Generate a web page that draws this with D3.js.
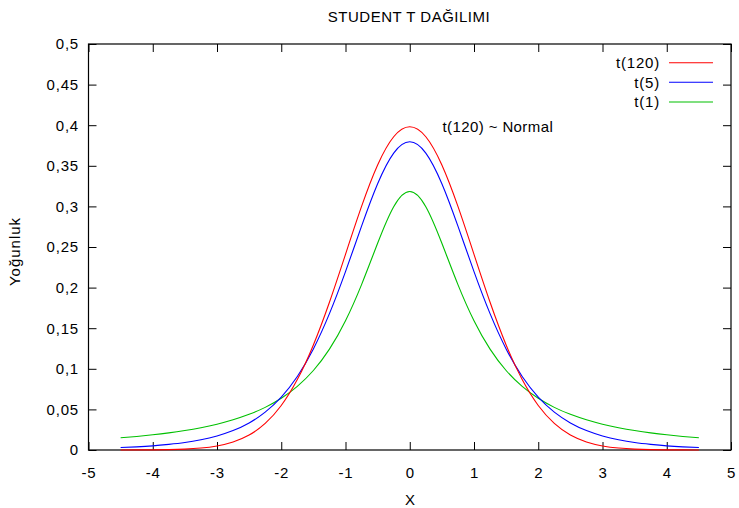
<!DOCTYPE html>
<html>
<head>
<meta charset="utf-8">
<script src="https://cdn.jsdelivr.net/npm/d3@7"></script>
<style>
  html, body { margin: 0; padding: 0; background: #fff; }
  svg { display: block; font-family: "Liberation Sans", Arial, Helvetica, sans-serif; }
</style>
</head>
<body>
<svg id="chart" width="739" height="508"></svg>
<script>
// ---- data ----
const xValues = [-4.5,-4.25,-4,-3.75,-3.5,-3.25,-3,-2.75,-2.5,-2.25,-2,-1.75,-1.5,-1.25,-1,-0.75,-0.5,-0.25,0,
                 0.25,0.5,0.75,1,1.25,1.5,1.75,2,2.25,2.5,2.75,3,3.25,3.5,3.75,4,4.25,4.5];
const t120 = [0.0000,0.0001,0.0002,0.0005,0.0011,0.0024,0.0050,0.0099,0.0184,0.0327,0.0548,0.0867,0.1294,0.1820,0.2410,0.3000,0.3510,0.3858,
              0.3981,
              0.3858,0.3510,0.3000,0.2410,0.1820,0.1294,0.0867,0.0548,0.0327,0.0184,0.0099,0.0050,0.0024,0.0011,0.0005,0.0002,0.0001,0.0000];
const t5 =   [0.0030,0.0039,0.0051,0.0069,0.0092,0.0126,0.0173,0.0239,0.0333,0.0466,0.0651,0.0905,0.1245,0.1679,0.2197,0.2757,0.3279,0.3657,
              0.3796,
              0.3657,0.3279,0.2757,0.2197,0.1679,0.1245,0.0905,0.0651,0.0466,0.0333,0.0239,0.0173,0.0126,0.0092,0.0069,0.0051,0.0039,0.0030];
const t1 =   [0.0150,0.0167,0.0187,0.0211,0.0240,0.0275,0.0318,0.0372,0.0439,0.0525,0.0637,0.0784,0.0979,0.1242,0.1592,0.2037,0.2546,0.2996,
              0.3183,
              0.2996,0.2546,0.2037,0.1592,0.1242,0.0979,0.0784,0.0637,0.0525,0.0439,0.0372,0.0318,0.0275,0.0240,0.0211,0.0187,0.0167,0.0150];
const seriesNames = ["t(120)", "t(5)", "t(1)"];
const seriesColors = ["#ff0000", "#0000ff", "#00c000"];
const xTicks = [-5,-4,-3,-2,-1,0,1,2,3,4,5];
const yTicks = [0,0.05,0.1,0.15,0.2,0.25,0.3,0.35,0.4,0.45,0.5];
const titleText = "STUDENT T DAĞILIMI";
const xLabel = "X";
const yLabel = "Yoğunluk";
const noteText = "t(120) ~ Normal";

// ---- layout ----
const L = 88.5, R = 731, T = 44, B = 450;
const svg = d3.select("#chart");
const x = d3.scaleLinear().domain([-5, 5]).range([L, R]);
const y = d3.scaleLinear().domain([0, 0.5]).range([B, T]);
const loc = d3.formatLocale({decimal: ",", thousands: ".", grouping: [3], currency: ["", ""], minus: "-"});
const fmt = loc.format("~g");

function styleAxis(g, showLabels) {
  g.selectAll(".domain").remove();
  g.selectAll(".tick line").attr("stroke", "#000").attr("stroke-width", 1);
  g.selectAll(".tick text").attr("fill", "#000").style("font-size", "15px").style("letter-spacing", "0.8px");
  if (!showLabels) g.selectAll(".tick text").remove();
}

svg.append("g").attr("transform", `translate(0,${B})`)
  .call(d3.axisBottom(x).tickValues(xTicks).tickFormat(fmt).tickSizeInner(-8).tickSizeOuter(0).tickPadding(17.5))
  .call(g => styleAxis(g, true))
  .attr("font-family", null).attr("font-size", null);
svg.append("g").attr("transform", `translate(0,${T})`)
  .call(d3.axisTop(x).tickValues(xTicks).tickSizeInner(-8).tickSizeOuter(0))
  .call(g => styleAxis(g, false));
svg.append("g").attr("transform", `translate(${L},0)`)
  .call(d3.axisLeft(y).tickValues(yTicks).tickFormat(fmt).tickSizeInner(-8).tickSizeOuter(0).tickPadding(9.5))
  .call(g => styleAxis(g, true))
  .attr("font-family", null).attr("font-size", null);
svg.append("g").attr("transform", `translate(${R},0)`)
  .call(d3.axisRight(y).tickValues(yTicks).tickSizeInner(-8).tickSizeOuter(0))
  .call(g => styleAxis(g, false));

// frame
svg.append("rect").attr("x", L).attr("y", T).attr("width", R - L).attr("height", B - T)
  .attr("fill", "none").attr("stroke", "#000").attr("stroke-width", 1.2);

// curves
const allSeries = [t120, t5, t1];
const line = d3.line().x((d, i) => x(xValues[i])).y(d => y(d)).curve(d3.curveNatural);
// draw in reverse so red is on top
[2, 1, 0].forEach(k => {
  svg.append("path").datum(allSeries[k]).attr("d", line)
    .attr("fill", "none").attr("stroke", seriesColors[k]).attr("stroke-width", 1.1);
});

// legend
const legY = [62.7, 82.3, 102];
seriesNames.forEach((n, k) => {
  svg.append("text").attr("x", 660).attr("y", legY[k]).attr("dy", "0.36em")
    .attr("text-anchor", "end").style("font-size", "15px").style("letter-spacing", "0.8px").text(n);
  svg.append("line").attr("x1", 669).attr("x2", 713).attr("y1", legY[k]).attr("y2", legY[k])
    .attr("stroke", seriesColors[k]).attr("stroke-width", 1.1);
});

// annotation
svg.append("text").attr("x", 442.5).attr("y", 132).style("font-size", "15px").style("letter-spacing", "0.4px").text(noteText);

// title and axis labels
svg.append("text").attr("x", 409).attr("y", 21.7).attr("text-anchor", "middle")
  .style("font-size", "15px").style("letter-spacing", "0.5px").text(titleText);
svg.append("text").attr("x", 410).attr("y", 504.5).attr("text-anchor", "middle")
  .style("font-size", "15px").text(xLabel);
svg.append("text").attr("transform", "translate(20,251.5) rotate(-90)").attr("text-anchor", "middle")
  .style("font-size", "15px").style("letter-spacing", "1px").text(yLabel);
</script>
</body>
</html>
